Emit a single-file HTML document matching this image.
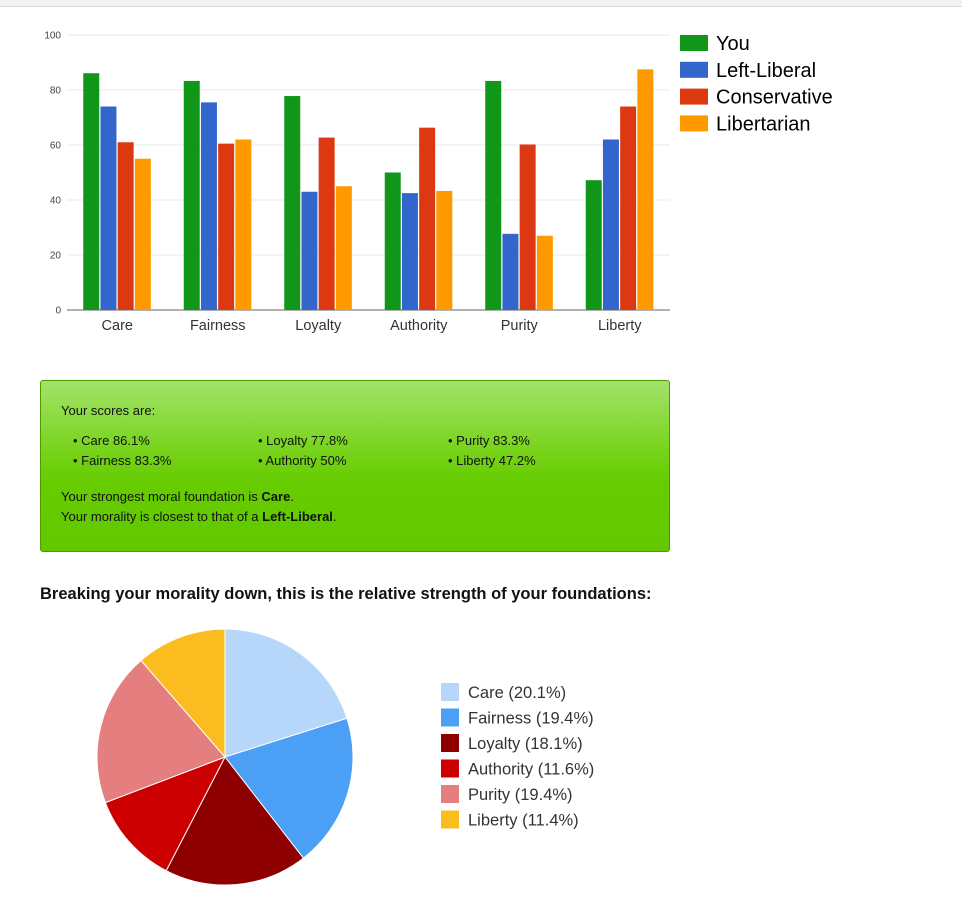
<!DOCTYPE html>
<html><head><meta charset="utf-8"><style>
body{margin:0;width:962px;height:918px;background:#fff;font-family:"Liberation Sans","DejaVu Sans",sans-serif;position:relative;overflow:hidden}
.topbar{position:absolute;left:0;top:0;width:962px;height:6px;background:#f2f2f2;border-bottom:1px solid #d8d8d8}
#bar{position:absolute;left:0;top:0}
.box{position:absolute;left:40px;top:380px;width:628px;height:170px;border:1px solid #4f9a00;border-radius:3px;background:linear-gradient(#a3e26a 0%,#78d41c 40%,#66cc00 60%,#63c800 100%);font-size:13px;color:#111}
.box .t{position:absolute;left:20px}
.h{position:absolute;left:40px;top:585px;font-size:16.5px;font-weight:bold;color:#111}
.lg{position:absolute;font-size:16px;color:#333}
</style></head><body>
<div class="topbar"></div>
<svg id="bar" width="962" height="345"></svg>
<div class="box">
<div class="t" style="top:22px">Your scores are:</div>
<div class="t" style="top:52px;left:32px">• Care 86.1%</div>
<div class="t" style="top:72px;left:32px">• Fairness 83.3%</div>
<div class="t" style="top:52px;left:217px">• Loyalty 77.8%</div>
<div class="t" style="top:72px;left:217px">• Authority 50%</div>
<div class="t" style="top:52px;left:407px">• Purity 83.3%</div>
<div class="t" style="top:72px;left:407px">• Liberty 47.2%</div>
<div class="t" style="top:108px">Your strongest moral foundation is <b>Care</b>.</div>
<div class="t" style="top:128px">Your morality is closest to that of a <b>Left-Liberal</b>.</div>
</div>
<div class="h">Breaking your morality down, this is the relative strength of your foundations:</div>
<svg id="pie" width="962" height="918" style="position:absolute;left:0;top:0;pointer-events:none"></svg>
<script>
const categories=["Care","Fairness","Loyalty","Authority","Purity","Liberty"];
const seriesNames=["You","Left-Liberal","Conservative","Libertarian"];
const youVals=[86.1,83.3,77.8,50,83.3,47.2];
const leftVals=[74,75.5,43,42.5,27.7,62];
const consVals=[61,60.5,62.7,66.3,60.2,74];
const libVals=[55,62,45,43.3,27,87.5];
const yTicks=[0,20,40,60,80,100];
const pieLabels=["Care","Fairness","Loyalty","Authority","Purity","Liberty"];
const pieVals=[20.1,19.4,18.1,11.6,19.4,11.4];

const NS="http://www.w3.org/2000/svg";
function mk(p,t,a){const e=document.createElementNS(NS,t);for(const k in a)e.setAttribute(k,a[k]);p.appendChild(e);return e;}
const colors=["#109618","#3366cc","#dc3912","#ff9900"];
const svg=document.getElementById('bar');
const x0=67,x1=670,y0=310,y1=35;
const yS=v=>y0-(v-0)/100*(y0-y1);
const gw=(x1-x0)/categories.length;
yTicks.forEach(t=>{
 const l=mk(svg,'line',{x1:x0,x2:x1,y1:yS(t),y2:yS(t),stroke:t==0?'#999':'#e8e8e8','stroke-width':t==0?1.5:1});
 
 
 const tx=mk(svg,'text',{x:61,y:yS(t)+3.5,'text-anchor':'end','font-size':10,fill:'#444'});
 tx.textContent=t;
 
 
});
const all=[youVals,leftVals,consVals,libVals];
categories.forEach((c,i)=>{
 const cx=x0+gw*(i+0.5);
 all.forEach((s,j)=>{
  const h=y0-yS(s[i]);
  const r=mk(svg,'rect',{x:cx-34+j*17.2,y:yS(s[i]),width:16,height:h,fill:colors[j]});
  
  
 });
 const t=mk(svg,'text',{x:cx,y:330,'text-anchor':'middle','font-size':14.5,fill:'#333'});
 t.textContent=c;
 
 
});
seriesNames.forEach((n,j)=>{
 const y=35+j*26.8;
 const r=mk(svg,'rect',{x:680,y:y,width:28,height:16,fill:colors[j]});
 
 
 const t=mk(svg,'text',{x:716,y:y+15,'font-size':20,fill:'#000'});
 t.textContent=n;
 
 
});
const pie=document.getElementById('pie');
const pcol=["#b6d7fa","#4b9ff5","#8e0000","#cc0000","#e57e7e","#fbbc1f"];
const pcx=225,pcy=757,R=128;
const tot=pieVals.reduce((a,b)=>a+b,0);
let a=0;
pieVals.forEach((v,i)=>{
 const a2=a+v/tot*2*Math.PI;
 const p=(t)=>[pcx+R*Math.sin(t),pcy-R*Math.cos(t)];
 const [sx,sy]=p(a),[ex,ey]=p(a2);
 const s=mk(pie,'path',{d:`M${pcx},${pcy}L${sx},${sy}A${R},${R} 0 ${a2-a>Math.PI?1:0} 1 ${ex},${ey}Z`,fill:pcol[i],stroke:'#fff','stroke-width':1});
 
 
 a=a2;
 const y=683+i*25.5;
 const r=mk(pie,'rect',{x:441,y:y,width:18,height:18,fill:pcol[i]});
 
 
 const t=mk(pie,'text',{x:468,y:y+15,'font-size':16.5,fill:'#333'});
 t.textContent=pieLabels[i]+' ('+v+'%)';
 
 
});
</script>
</body></html>
